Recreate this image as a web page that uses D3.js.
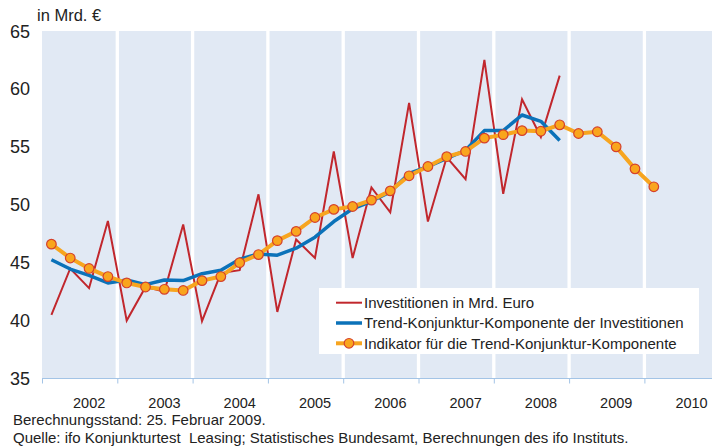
<!DOCTYPE html>
<html>
<head>
<meta charset="utf-8">
<script src="https://cdn.jsdelivr.net/npm/d3@7"></script>
<style>
  body { margin: 0; background: #fff; }
  svg { display: block; font-family: "Liberation Sans", Arial, sans-serif; }
</style>
</head>
<body>
<div id="chart"></div>
<script>
// quarterly values, first point = Q1 2002
var firstYear = 2002;
var yearLabels = ["2002", "2003", "2004", "2005", "2006", "2007", "2008", "2009", "2010"];
var yTicks = [35, 40, 45, 50, 55, 60, 65];

var investitionen = [40.5, 44.5, 42.8, 48.6, 40.0, 42.9, 42.5, 48.3,
    39.95, 44.1, 44.35, 50.9, 40.75, 47.0, 45.4, 54.6,
    45.4, 51.5, 49.35, 58.8, 48.55, 54.1, 52.2, 62.5,
    50.95, 59.1, 55.85, 61.15];

var trend = [45.25, 44.45, 43.9, 43.25, 43.5, 43.1, 43.5, 43.45,
    44.05, 44.35, 45.3, 45.75, 45.65, 46.25, 47.2, 48.55,
    49.65, 50.3, 51.1, 52.7, 53.3, 54.0, 54.7, 56.4,
    56.4, 57.75, 57.2, 55.55];

var indikator = [46.6, 45.4, 44.5, 43.8, 43.25, 42.9, 42.7, 42.6,
    43.45, 43.8, 45.0, 45.7, 46.9, 47.7, 48.9, 49.6,
    49.85, 50.4, 51.2, 52.5, 53.3, 54.15, 54.6, 55.75,
    56.05, 56.4, 56.35, 56.9, 56.15, 56.3, 55.0, 53.1,
    51.55];

var legendLabels = ["Investitionen in Mrd. Euro",
    "Trend-Konjunktur-Komponente der Investitionen",
    "Indikator für die Trend-Konjunktur-Komponente"];

var width = 712, height = 448;
var plotLeft = 42, plotTop = 31, plotBottom = 378.5, yearW = 75.3;

var svg = d3.select("#chart").append("svg")
    .attr("width", width)
    .attr("height", height);

var x = d3.scaleLinear()
    .domain([firstYear, firstYear + yearLabels.length])
    .range([plotLeft, plotLeft + yearW * yearLabels.length]);

var y = d3.scaleLinear().domain([35, 65]).range([plotBottom, plotTop]);

function qx(i) { return x(firstYear + (i + 0.5) / 4); }

svg.append("defs").append("clipPath").attr("id", "clip")
    .append("rect").attr("x", plotLeft).attr("y", plotTop)
    .attr("width", width - plotLeft).attr("height", plotBottom - plotTop);

// plot background + white year separators
svg.append("rect")
    .attr("x", plotLeft).attr("y", plotTop)
    .attr("width", width - plotLeft).attr("height", plotBottom - plotTop)
    .attr("fill", "#e1e9f4");

svg.append("g").selectAll("line")
    .data(d3.range(1, yearLabels.length))
    .enter().append("line")
    .attr("x1", function (d) { return x(firstYear + d); })
    .attr("x2", function (d) { return x(firstYear + d); })
    .attr("y1", plotTop).attr("y2", plotBottom)
    .attr("stroke", "#fff").attr("stroke-width", 3.3);

// bottom axis
var xAxis = d3.axisBottom(x)
    .tickValues(d3.range(firstYear, firstYear + yearLabels.length))
    .tickSize(5).tickFormat("");
var ax = svg.append("g").attr("transform", "translate(0," + plotBottom + ")").call(xAxis);
ax.select(".domain").attr("stroke", "#a3c4e6").attr("d", "M" + plotLeft + ",0H" + width);
ax.selectAll(".tick line").attr("stroke", "#a3c4e6");

svg.append("g").selectAll("text")
    .data(yearLabels)
    .enter().append("text")
    .attr("x", function (d, i) { return x(firstYear + i + 0.5) + 9.5; })
    .attr("y", 407.5)
    .attr("text-anchor", "middle")
    .attr("font-size", 14.5)
    .attr("fill", "#222")
    .text(function (d) { return d; });

// y tick labels
svg.append("g").selectAll("text")
    .data(yTicks)
    .enter().append("text")
    .attr("x", 30)
    .attr("y", function (d) { return y(d) + 6.5; })
    .attr("text-anchor", "end")
    .attr("font-size", 18)
    .attr("fill", "#222")
    .text(function (d) { return d; });

svg.append("text")
    .attr("x", 37).attr("y", 21)
    .attr("font-size", 16.5).attr("fill", "#222")
    .text("in Mrd. €");

// series
var line = d3.line()
    .x(function (d, i) { return qx(i); })
    .y(function (d) { return y(d); });

var plot = svg.append("g").attr("clip-path", "url(#clip)");

plot.append("path").datum(investitionen)
    .attr("d", line).attr("fill", "none")
    .attr("stroke", "#c1272d").attr("stroke-width", 2);

plot.append("path").datum(trend)
    .attr("d", line).attr("fill", "none")
    .attr("stroke", "#0b72b9").attr("stroke-width", 3.5)
    .attr("stroke-linejoin", "round");

plot.append("path").datum(indikator)
    .attr("d", line).attr("fill", "none")
    .attr("stroke", "#f7a51f").attr("stroke-width", 4)
    .attr("stroke-linejoin", "round");

plot.append("g").selectAll("circle")
    .data(indikator)
    .enter().append("circle")
    .attr("cx", function (d, i) { return qx(i); })
    .attr("cy", function (d) { return y(d); })
    .attr("r", 4.8)
    .attr("fill", "#f9a51d")
    .attr("stroke", "#d5412c").attr("stroke-width", 1.2);

// legend
var lg = svg.append("g").attr("transform", "translate(319,288)");
lg.append("rect").attr("width", 380).attr("height", 66).attr("fill", "#fff");

var legendColors = ["#c1272d", "#0b72b9", "#f7a51f"];
var legendWidths = [2, 3.5, 4];
var rows = lg.selectAll("g.row")
    .data(legendLabels)
    .enter().append("g")
    .attr("class", "row")
    .attr("transform", function (d, i) { return "translate(0," + (14.7 + i * 20.3) + ")"; });

rows.append("line")
    .attr("x1", 17).attr("x2", 43)
    .attr("stroke", function (d, i) { return legendColors[i]; })
    .attr("stroke-width", function (d, i) { return legendWidths[i]; });

rows.filter(function (d, i) { return i === 2; })
    .append("circle")
    .attr("cx", 30).attr("r", 4.8)
    .attr("fill", "#f9a51d")
    .attr("stroke", "#d5412c").attr("stroke-width", 1.2);

rows.append("text")
    .attr("x", 45).attr("y", 5.3)
    .attr("font-size", 15).attr("fill", "#222")
    .text(function (d) { return d; });

// footer
svg.append("text").attr("x", 13).attr("y", 425)
    .attr("font-size", 15).attr("fill", "#222")
    .text("Berechnungsstand: 25. Februar 2009.");
svg.append("text").attr("x", 13).attr("y", 443)
    .attr("font-size", 15).attr("fill", "#222")
    .text("Quelle: ifo Konjunkturtest  Leasing; Statistisches Bundesamt, Berechnungen des ifo Instituts.")
    .style("white-space", "pre");
</script>
</body>
</html>
